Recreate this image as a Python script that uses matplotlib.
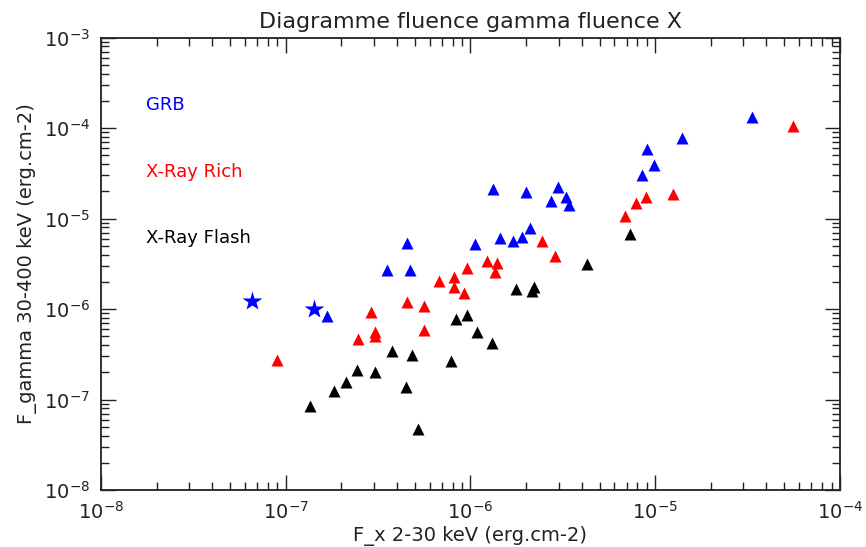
import numpy as np
import matplotlib.pyplot as plt
from matplotlib.ticker import LogLocator

# GRB (triangles) and the two GRB stars
grb_x = [1.68e-7, 3.52e-7, 4.55e-7, 4.68e-7, 1.06e-6, 1.33e-6, 1.45e-6, 1.70e-6,
         1.91e-6, 2.11e-6, 2.00e-6, 2.96e-6, 2.74e-6, 3.28e-6, 3.42e-6, 8.51e-6,
         9.06e-6, 9.84e-6, 1.39e-5, 3.33e-5]
grb_y = [8.3e-7, 2.69e-6, 5.36e-6, 2.69e-6, 5.21e-6, 2.10e-5, 6.12e-6, 5.70e-6,
         6.28e-6, 7.85e-6, 1.95e-5, 2.25e-5, 1.55e-5, 1.75e-5, 1.42e-5, 3.0e-5,
         5.9e-5, 3.92e-5, 7.73e-5, 1.31e-4]
star_x = [6.6e-8, 1.42e-7]
star_y = [1.24e-6, 1.01e-6]

# X-Ray Rich
xrr_x = [8.94e-8, 2.46e-7, 2.90e-7, 3.05e-7, 3.05e-7, 4.55e-7, 5.63e-7, 5.63e-7,
         6.74e-7, 8.13e-7, 8.13e-7, 9.2e-7, 9.6e-7, 1.23e-6, 1.39e-6, 1.36e-6,
         2.44e-6, 2.86e-6, 6.87e-6, 7.89e-6, 8.87e-6, 1.24e-5, 5.56e-5]
xrr_y = [2.77e-7, 4.64e-7, 9.3e-7, 5.65e-7, 5.03e-7, 1.19e-6, 1.08e-6, 5.81e-7,
         2.02e-6, 2.25e-6, 1.77e-6, 1.49e-6, 2.82e-6, 3.37e-6, 3.22e-6, 2.55e-6,
         5.65e-6, 3.81e-6, 1.08e-5, 1.47e-5, 1.72e-5, 1.88e-5, 1.05e-4]

# X-Ray Flash
xrf_x = [1.35e-7, 1.82e-7, 2.11e-7, 2.44e-7, 3.03e-7, 3.75e-7, 4.46e-7, 4.84e-7,
         5.22e-7, 7.85e-7, 8.35e-7, 9.52e-7, 1.09e-6, 1.30e-6, 1.77e-6, 2.14e-6,
         2.21e-6, 4.27e-6, 7.26e-6]
xrf_y = [8.5e-8, 1.26e-7, 1.55e-7, 2.12e-7, 2.02e-7, 3.46e-7, 1.39e-7, 3.11e-7,
         4.77e-8, 2.69e-7, 7.78e-7, 8.67e-7, 5.65e-7, 4.21e-7, 1.65e-6, 1.58e-6,
         1.77e-6, 3.16e-6, 6.75e-6]

plt.rcParams['font.family'] = 'DejaVu Sans'
fig = plt.figure(figsize=(8.66, 5.47), dpi=100)
ax = fig.add_axes([0.1166, 0.104, 0.8534, 0.8274])

ax.plot(grb_x, grb_y, '^', color='#0000ff', ms=8.5, mec='none')
ax.plot(star_x, star_y, '*', color='#0000ff', ms=15, mec='none')
ax.plot(xrr_x, xrr_y, '^', color='#ff0000', ms=8.5, mec='none')
ax.plot(xrf_x, xrf_y, '^', color='black', ms=8.5, mec='none')

ax.set_xscale('log')
ax.set_yscale('log')
ax.set_xlim(1e-8, 1e-4)
ax.set_ylim(1e-8, 1e-3)
ax.xaxis.set_major_locator(LogLocator(base=10, numticks=10))
ax.yaxis.set_major_locator(LogLocator(base=10, numticks=10))
ax.xaxis.set_minor_locator(LogLocator(base=10, subs=np.arange(2, 10), numticks=20))
ax.yaxis.set_minor_locator(LogLocator(base=10, subs=np.arange(2, 10), numticks=20))

ax.tick_params(which='both', direction='in', top=True, right=True, labelsize=14,
               color='#222222', labelcolor='#222222', width=1)
ax.tick_params(which='major', length=11, pad=8)
ax.tick_params(which='minor', length=6)
for s in ax.spines.values():
    s.set_linewidth(1.3)
    s.set_color('#222222')

ax.set_title('Diagramme fluence gamma fluence X', fontsize=16, color='#222222', pad=7)
ax.set_xlabel('F_x 2-30 keV (erg.cm-2)', fontsize=14, color='#222222', labelpad=2)
ax.set_ylabel('F_gamma 30-400 keV (erg.cm-2)', fontsize=14, color='#222222', labelpad=5)

ax.text(0.061, 0.851, 'GRB', color='#0000ff', fontsize=13, transform=ax.transAxes, va='center')
ax.text(0.061, 0.703, 'X-Ray Rich', color='#ff0000', fontsize=13, transform=ax.transAxes, va='center')
ax.text(0.061, 0.557, 'X-Ray Flash', color='black', fontsize=13, transform=ax.transAxes, va='center')

plt.savefig('out.png', dpi=100)
